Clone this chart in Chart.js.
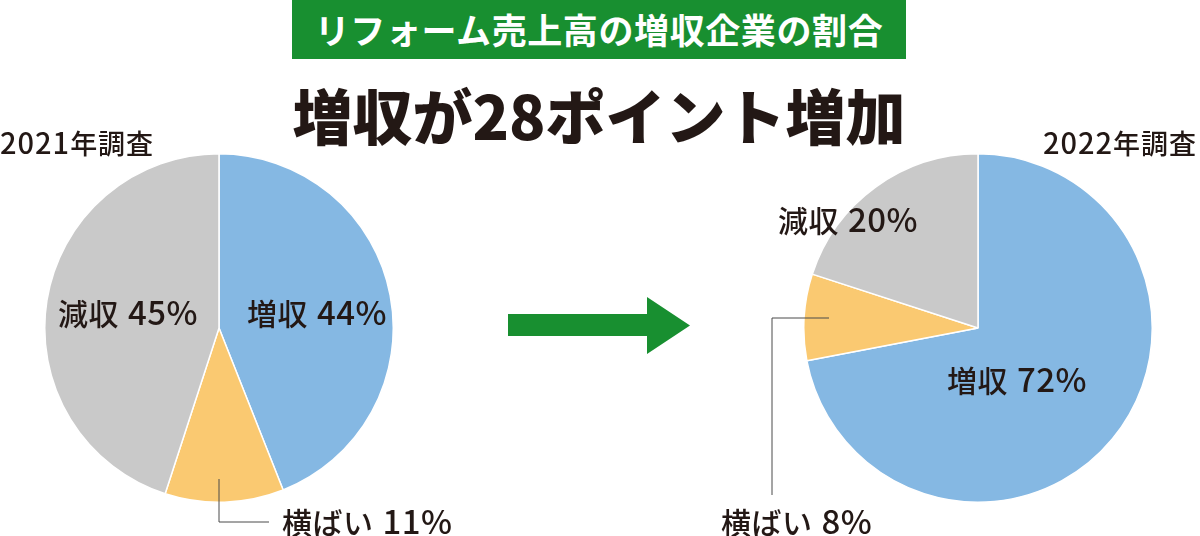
<!DOCTYPE html>
<html lang="ja">
<head>
<meta charset="utf-8">
<title>リフォーム売上高の増収企業の割合</title>
<script src="https://cdn.jsdelivr.net/npm/chart.js@4/dist/chart.umd.min.js"></script>
<style>
  body { margin: 0; background: #fff; }
  #wrap { position: relative; width: 1200px; height: 536px; overflow: hidden;
    font-family: "Noto Sans CJK JP", "Noto Sans", sans-serif; color: #231815; }
  .abs { position: absolute; white-space: nowrap; }
  #titleBox { left: 292px; top: 0; width: 614px; height: 59px; background: #188f30; }
  #title { left: 292px; width: 614px; top: 11px; font-size: 35px; line-height: 35px;
    font-weight: 700; color: #fff; text-align: center; letter-spacing: 0.6px; }
  #headline { left: 292px; width: 614px; top: 84px; font-size: 60px; line-height: 60px;
    font-weight: 900; text-align: center; }
  .survey { font-size: 27px; line-height: 27px; font-weight: 500; top: 128px; letter-spacing: 1px; }
  .survey .num { font-size: 29px; letter-spacing: 1px; }
  .lbl { font-size: 30px; line-height: 30px; font-weight: 500; letter-spacing: 0.5px; }
  .lbl .num { font-size: 33px; margin-left: 9px; letter-spacing: 0.5px; }
  .pie { position: absolute; width: 350px; height: 350px; }
  svg { position: absolute; left: 0; top: 0; }
</style>
</head>
<body>
<div id="wrap">
  <div id="titleBox" class="abs"></div>
  <div id="title" class="abs"></div>
  <div id="headline" class="abs"></div>
  <div id="pieA" class="pie" style="left:44px;top:153px"><canvas id="chartA"></canvas></div>
  <div id="pieB" class="pie" style="left:803px;top:153px"><canvas id="chartB"></canvas></div>
  <svg width="1200" height="536">
    <polygon points="508,314 647,314 647,297 690,325.5 647,354 647,336 508,336" fill="#188f30"/>
    <polyline points="219,479 219,522 269,522" fill="none" stroke="#4a4a4a" stroke-width="1"/>
    <polyline points="829,318 772,318 772,495" fill="none" stroke="#4a4a4a" stroke-width="1"/>
  </svg>
</div>
<script>
const chartTitle = 'リフォーム売上高の増収企業の割合';
const headline = '増収が28ポイント増加';
const surveyYears = ['2021', '2022'];
const categories = ['増収', '横ばい', '減収'];
const values2021 = [44, 11, 45];
const values2022 = [72, 8, 20];
const sliceColors = ['#85b8e3', '#fac971', '#c9c9c9'];

document.getElementById('title').textContent = chartTitle;
document.getElementById('headline').textContent = headline;

const wrap = document.getElementById('wrap');

// text made of a plain part and a number part (number set a bit larger)
const addText = (text, num, cls, css, numFirst) => {
  let d = document.createElement('div');
  d.className = 'abs ' + cls;
  let t = document.createElement('span');
  t.textContent = text;
  let n = document.createElement('span');
  n.className = 'num';
  n.textContent = num;
  if (numFirst) {
    d.appendChild(n);
    d.appendChild(t);
  } else {
    d.appendChild(t);
    d.appendChild(n);
  }
  Object.assign(d.style, css);
  wrap.appendChild(d);
};

addText('年調査', surveyYears[0], 'survey', { left: '0px' }, true);
addText('年調査', surveyYears[1], 'survey', { right: '3px' }, true);

// label spots: [left, top] for each slice, same order as categories
const spotsA = [[247, 296], [282, 505], [58, 296]];
const spotsB = [[947, 363], [721, 505], [778, 203]];

const makePie = (id, values, spots) => {
  const ctx = document.getElementById(id).getContext('2d');
  const chart = new Chart(ctx, {
    type: 'pie',
    data: {
      labels: categories,
      datasets: [{
        data: values,
        backgroundColor: sliceColors,
        borderColor: '#ffffff',
        borderWidth: 1.5,
      }],
    },
    options: {
      responsive: true,
      maintainAspectRatio: false,
      animation: false,
      layout: { padding: 0 },
      plugins: {
        legend: { display: false },
        tooltip: { enabled: false },
      },
    },
  });
  values.forEach((v, i) => {
    addText(categories[i], v + '%', 'lbl', { left: spots[i][0] + 'px', top: spots[i][1] + 'px' }, false);
  });
  return chart;
};

makePie('chartA', values2021, spotsA);
makePie('chartB', values2022, spotsB);
</script>
</body>
</html>
